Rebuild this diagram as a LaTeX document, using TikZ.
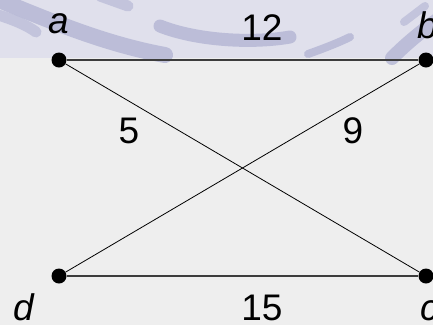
\documentclass[tikz,border=0pt]{standalone}
\usepackage{fontspec}
\setmainfont{Liberation Sans}
\definecolor{paper}{RGB}{238,238,238}
\definecolor{bandlav}{RGB}{224,224,236}
\definecolor{brushblue}{RGB}{176,178,210}
\definecolor{edgegray}{RGB}{60,60,60}

\tikzset{
  vertex/.style={circle, fill=black, inner sep=0pt, minimum size=15pt},
  vlabel/.style={inner sep=0pt, anchor=base, font=\fontsize{37}{40}\selectfont\itshape},
  weight/.style={inner sep=0pt, anchor=base, font=\fontsize{37}{40}\selectfont},
  brush/.style={brushblue, line cap=round, line width=#1},
}

\begin{document}
\begin{tikzpicture}[x=1pt, y=-1pt]
    % Slide background
    \useasboundingbox (0,0) rectangle (433,325);
    \fill[paper] (0,0) rectangle (433,325);
    \fill[bandlav] (0,0) rectangle (433,58);

    % Brush strokes on the top band
    \draw[brush=16pt, opacity=0.75] (4,2) .. controls (60,25) and (110,45) .. (165,55);
    \draw[brush=11pt, opacity=0.6] (-5,14) .. controls (15,20) and (28,26) .. (36,32);
    \draw[brush=11pt, opacity=0.6] (100,-4) -- (128,6);
    \draw[brush=13pt, opacity=0.75] (160,26) .. controls (195,40) and (250,44) .. (290,37);
    \draw[brush=8pt, opacity=0.75] (308,54) .. controls (325,48) and (340,42) .. (350,37);
    \draw[brush=14pt, opacity=0.75] (392,58) .. controls (405,45) and (420,32) .. (440,18);
    \draw[brush=8pt, opacity=0.6] (404,22) -- (425,6);

    % Vertices
    \node[vertex] (a) at (59,60) {};
    \node[vertex] (b) at (426,60) {};
    \node[vertex] (c) at (426,276) {};
    \node[vertex] (d) at (59,276) {};

    % Edges
    \draw[edgegray, line width=1.4pt] (a) -- (b);
    \draw[edgegray, line width=1.4pt] (d) -- (c);
    \draw[black, line width=0.8pt] (a) -- (c);
    \draw[black, line width=0.8pt] (d) -- (b);

    % Vertex names
    \node[vlabel] (la) at (59,33) {a};
    \node[vlabel] (lb) at (428,38) {b};
    \node[vlabel] (lc) at (430,320) {c};
    \node[vlabel] (ld) at (24,320) {d};

    % Weights
    \node[weight] (wab) at (262,40) {12};
    \node[weight] (wac) at (129,143) {5};
    \node[weight] (wbd) at (353,143) {9};
    \node[weight] (wcd) at (262,320) {15};
\end{tikzpicture}
\end{document}
